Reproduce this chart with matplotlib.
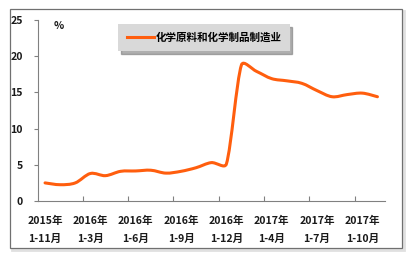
import numpy as np
import matplotlib.pyplot as plt
from matplotlib.path import Path
from matplotlib.patches import PathPatch, Rectangle
from matplotlib.lines import Line2D

plt.rcParams['font.family'] = ['Noto Sans CJK SC', 'DejaVu Sans']

# 累计同比增速（%），2015年1-11月 ~ 2017年1-11月
periods = ['2015年\n1-11月', '2015年\n1-12月', '2016年\n1-2月', '2016年\n1-3月',
           '2016年\n1-4月', '2016年\n1-5月', '2016年\n1-6月', '2016年\n1-7月',
           '2016年\n1-8月', '2016年\n1-9月', '2016年\n1-10月', '2016年\n1-11月',
           '2016年\n1-12月', '2017年\n1-2月', '2017年\n1-3月', '2017年\n1-4月',
           '2017年\n1-5月', '2017年\n1-6月', '2017年\n1-7月', '2017年\n1-8月',
           '2017年\n1-9月', '2017年\n1-10月', '2017年\n1-11月']
growth = [2.5, 2.25, 2.5, 3.8, 3.5, 4.1, 4.15, 4.25, 3.85, 4.1, 4.6, 5.3,
          5.1, 18.8, 17.9, 16.9, 16.6, 16.25, 15.25, 14.4, 14.7, 14.9, 14.4]
series_name = '化学原料和化学制品制造业'

line_color = '#FF5E0E'
axis_color = '#808080'

fig = plt.figure(figsize=(4.13, 2.58), dpi=100)

# outer chart border with light shadow
fig.patches.append(Rectangle((12 / 413, 8 / 258), 392 / 413, 239 / 258,
                             transform=fig.transFigure, facecolor='none',
                             edgecolor='#e0e0e0', lw=2, zorder=-2))
fig.patches.append(Rectangle((10 / 413, 10 / 258), 392 / 413, 239 / 258,
                             transform=fig.transFigure, facecolor='white',
                             edgecolor='#707070', lw=0.9, zorder=-1))

ax = fig.add_axes([37.5 / 413, 1 - 201 / 258, 347.5 / 413, 181 / 258])
ax.patch.set_alpha(0)
ax.set_xlim(-0.5, len(growth) - 0.5)
ax.set_ylim(0, 25)

# smoothed line (Excel style): cubic Bezier through the points,
# control arms limited by the neighbouring segment length in pixels
x = np.arange(len(growth), dtype=float)
y = np.array(growth, dtype=float)
sx = 347.5 / len(growth)   # px per category
sy = 181 / 25              # px per %
pts = np.column_stack([x * sx, y * sy])
ext = np.vstack([pts[0], pts, pts[-1]])
verts = [tuple(pts[0])]
codes = [Path.MOVETO]


def arm(t, seg_len, k=0.36):
    n = np.hypot(*t)
    lim = k * seg_len
    return t if n <= lim or n == 0 else t * lim / n


for i in range(len(pts) - 1):
    p0, p1, p2, p3 = ext[i], ext[i + 1], ext[i + 2], ext[i + 3]
    seg = np.hypot(*(p2 - p1))
    c1 = p1 + arm((p2 - p0) / 6, seg)
    c2 = p2 - arm((p3 - p1) / 6, seg)
    verts += [tuple(c1), tuple(c2), tuple(p2)]
    codes += [Path.CURVE4] * 3
verts = [(vx / sx, vy / sy) for vx, vy in verts]
ax.add_patch(PathPatch(Path(verts, codes), facecolor='none', edgecolor=line_color,
                       lw=2.2, capstyle='round', joinstyle='round'))

ax.set_yticks([0, 5, 10, 15, 20, 25])

# tick marks between categories, labels every 3 periods
ax.set_xticks(np.arange(2.5, len(growth) - 1, 3))
ax.set_xticklabels([])
ax.set_xticks(np.arange(0, len(growth), 3), minor=True)
ax.set_xticklabels(periods[::3], minor=True, linespacing=2.0)
ax.tick_params(axis='x', which='major', direction='in', length=3.5, color=axis_color, width=0.8)
ax.tick_params(axis='x', which='minor', length=0, pad=10.5, labelsize=7.6)
ax.tick_params(axis='y', direction='out', length=3, color=axis_color, width=0.8,
               pad=7.5, labelsize=7.6)
for lab in ax.get_xticklabels(minor=True) + ax.get_yticklabels():
    lab.set_fontweight('bold')
    lab.set_color('#1a1a1a')

for s in ['top', 'right']:
    ax.spines[s].set_visible(False)
for s in ['left', 'bottom']:
    ax.spines[s].set_color(axis_color)
    ax.spines[s].set_linewidth(0.8)

ax.text(0.045, 0.967, '%', transform=ax.transAxes, fontsize=7.6, fontweight='bold',
        ha='left', va='center', color='#1a1a1a')

handle = Line2D([], [], color=line_color, lw=2.2)
leg = ax.legend([handle], [series_name], loc='center',
                bbox_to_anchor=(204 / 413, 1 - 37.5 / 258), bbox_transform=fig.transFigure,
                frameon=True, fancybox=False, facecolor='#d9d9d9', edgecolor='none',
                framealpha=1, shadow={'color': '#7a7a7a', 'alpha': 0.6},
                prop={'size': 7.6, 'weight': 'bold'}, handlelength=2.6,
                handletextpad=0.1, borderpad=0.8)

fig.savefig('out.png', dpi=100)
